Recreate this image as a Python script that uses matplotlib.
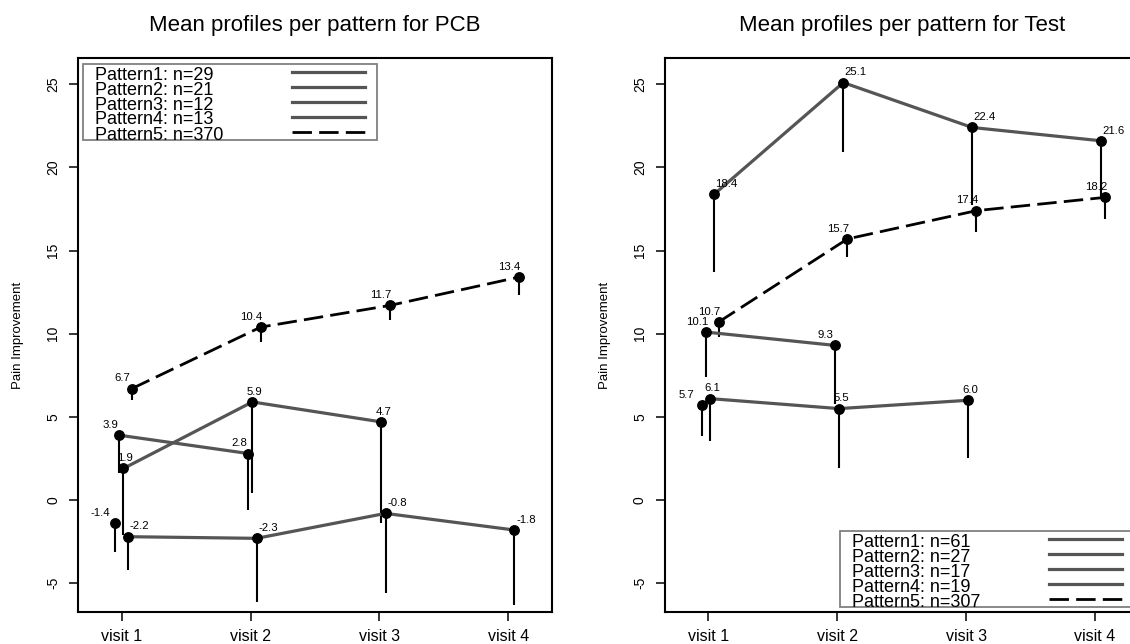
import numpy as np
import matplotlib
matplotlib.use("Agg")
import matplotlib.pyplot as plt
from matplotlib.patches import Rectangle

plt.rcParams['font.family'] = ['Liberation Sans', 'DejaVu Sans']
plt.rcParams['axes.unicode_minus'] = False

# data
visits = ['visit 1', 'visit 2', 'visit 3', 'visit 4']
pattern_names = ['Pattern1', 'Pattern2', 'Pattern3', 'Pattern4', 'Pattern5']

pcb_n = [29, 21, 12, 13, 370]
pcb_means = [[-1.4],
             [3.9, 2.8],
             [1.9, 5.9, 4.7],
             [-2.2, -2.3, -0.8, -1.8],
             [6.7, 10.4, 11.7, 13.4]]
pcb_lower = [[-3.1],
             [1.6, -0.6],
             [-2.1, 0.4, -1.4],
             [-4.2, -6.1, -5.6, -6.3],
             [6.0, 9.5, 10.8, 12.3]]

test_n = [61, 27, 17, 19, 307]
test_means = [[5.7],
              [10.1, 9.3],
              [6.1, 5.5, 6.0],
              [18.4, 25.1, 22.4, 21.6],
              [10.7, 15.7, 17.4, 18.2]]
test_lower = [[3.85],
              [7.4, 5.8],
              [3.55, 1.9, 2.55],
              [13.7, 20.9, 17.75, 18.25],
              [9.8, 14.6, 16.1, 16.9]]

# small horizontal shift per pattern so the profiles don't sit on top of each other
shifts = [-0.052, -0.018, 0.014, 0.047, 0.079]
label_dx = [-10.8, -6.5, 1.4, 8.6, -6.5]   # points

W, H = 1130, 644
AX_W, AX_H = 473.4, 553.4   # axes size in pixels

fig = plt.figure(figsize=(W / 100, H / 100), dpi=100)
ax1 = fig.add_axes([78.3 / W, (H - 611.7) / H, AX_W / W, AX_H / H])
ax2 = fig.add_axes([665.0 / W, (H - 611.7) / H, AX_W / W, AX_H / H])


def draw_legend(ax, n, left, top):
    # left/top: pixel offsets of the box from the axes' left and top edge
    fx = lambda p: (left + p) / AX_W
    fy = lambda p: 1 - (top + p) / AX_H
    ax.add_patch(Rectangle((fx(0), fy(76)), 294 / AX_W, 76 / AX_H,
                           transform=ax.transAxes, facecolor='white',
                           edgecolor='#808080', lw=1.3, zorder=5, clip_on=False))
    for k in range(5):
        ax.text(fx(12), fy(11 + 15 * k), f'{pattern_names[k]}: n={n[k]}',
                transform=ax.transAxes, fontsize=13, ha='left', va='center',
                zorder=6, clip_on=False)
        ly = fy(7.7 + 15 * k)
        if k < 4:
            ax.plot([fx(209), fx(282)], [ly, ly], color='#555555', lw=2.3,
                    transform=ax.transAxes, zorder=6, clip_on=False)
        else:
            ax.plot([fx(209), fx(282)], [ly, ly], color='black', lw=2.0,
                    dashes=(7, 2.6), transform=ax.transAxes, zorder=6, clip_on=False)


def draw_panel(ax, means, lower, n, title, leg_pos):
    for k in range(5):
        x = np.arange(1, len(means[k]) + 1) + shifts[k]
        ax.vlines(x, lower[k], means[k], color='black', lw=1.5, zorder=2)
        if k < 4:
            ax.plot(x, means[k], color='#555555', lw=2.3, zorder=3)
        else:
            ax.plot(x, means[k], color='black', lw=2.0, dashes=(7, 2.6), zorder=3)
        ax.plot(x, means[k], 'o', color='black', ms=6.8, zorder=4)
        for xi, yi in zip(x, means[k]):
            ax.annotate(f'{yi:.1f}', (xi, yi), xytext=(label_dx[k], 7.4),
                        textcoords='offset points', ha='center', va='center',
                        fontsize=8.2, zorder=4)

    ax.set_xlim(0.664, 4.336)
    ax.set_ylim(-6.71, 26.56)
    ax.set_xticks([1, 2, 3, 4])
    ax.set_xticklabels(visits)
    ax.set_yticks(range(-5, 30, 5))
    ax.tick_params(direction='out', length=6.5, width=1.1)
    ax.tick_params(axis='x', labelsize=11.5, pad=6)
    ax.tick_params(axis='y', labelsize=10, pad=6.5, labelrotation=90)
    plt.setp(ax.get_yticklabels(), va='center')
    for s in ax.spines.values():
        s.set_linewidth(1.5)
    ax.set_ylabel('Pain Improvement', fontsize=9.5, va='center')
    ax.yaxis.set_label_coords(-60 / AX_W, 0.5)
    ax.set_title(title, fontsize=16, pad=20)
    draw_legend(ax, n, *leg_pos)


draw_panel(ax1, pcb_means, pcb_lower, pcb_n,
           'Mean profiles per pattern for PCB', (4.7, 5.7))
draw_panel(ax2, test_means, test_lower, test_n,
           'Mean profiles per pattern for Test', (174.6, 472.7))

fig.savefig('out.png', dpi=100)
